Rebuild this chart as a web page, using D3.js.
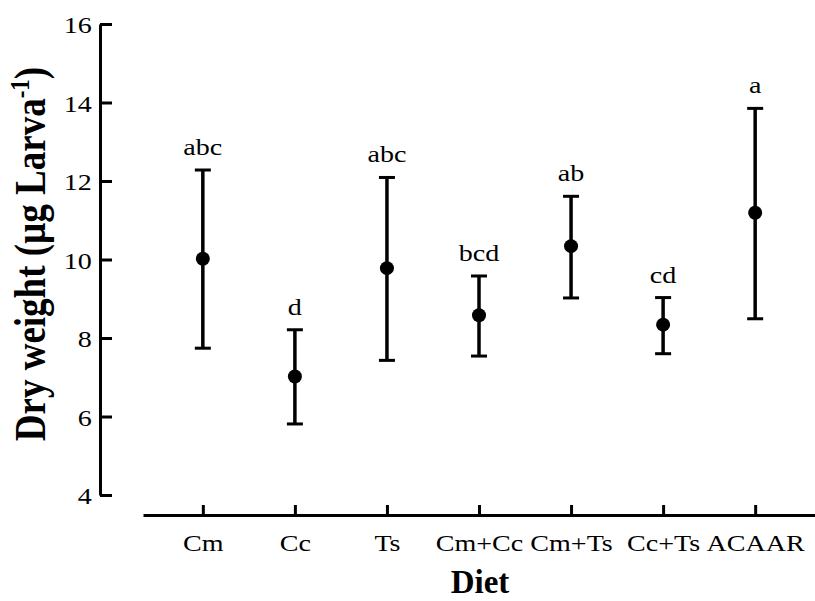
<!DOCTYPE html>
<html>
<head>
<meta charset="utf-8">
<script src="https://cdn.jsdelivr.net/npm/d3@7"></script>
<style>
  body { margin: 0; background: #fff; }
  text { font-family: "Liberation Serif", "Times New Roman", serif; fill: #000; }
</style>
</head>
<body>
<div id="chart"></div>
<script>
const diets = ["Cm", "Cc", "Ts", "Cm+Cc", "Cm+Ts", "Cc+Ts", "ACAAR"];
const means = [10.02, 7.02, 9.78, 8.58, 10.34, 8.34, 11.19];
const upper = [12.28, 8.21, 12.09, 9.58, 11.61, 9.03, 13.85];
const lower = [7.74, 5.81, 7.43, 7.54, 9.02, 7.60, 8.49];
const letters = ["abc", "d", "abc", "bcd", "ab", "cd", "a"];
const yTicks = [4, 6, 8, 10, 12, 14, 16];

const width = 815, height = 601;
const stretch = 1.17; // regular text in the figure is a bit wide

const svg = d3.select("#chart").append("svg")
  .attr("width", width)
  .attr("height", height);

const x = d3.scalePoint()
  .domain(diets)
  .range([143, 815])
  .padding(0.65);

const y = d3.scaleLinear()
  .domain([4, 16])
  .range([495, 24]);

const rows = diets.map((d, i) => ({
  diet: d, mean: means[i], hi: upper[i], lo: lower[i], letter: letters[i]
}));

// y axis, ticks pointing inward
const yAxis = svg.append("g")
  .attr("transform", "translate(100,0)")
  .call(d3.axisLeft(y).tickValues(yTicks).tickSizeInner(-12).tickSizeOuter(0).tickPadding(7));
yAxis.select(".domain").attr("stroke-width", 3);
yAxis.selectAll(".tick line").attr("stroke-width", 3);
yAxis.selectAll(".tick text")
  .attr("font-size", 24)
  .attr("transform", `scale(${stretch},1)`)
  .attr("dy", "0.36em");

// x axis
const xAxis = svg.append("g")
  .attr("transform", "translate(0,515)")
  .call(d3.axisBottom(x).tickSizeInner(-10).tickSizeOuter(0).tickPadding(19));
xAxis.select(".domain").attr("stroke-width", 3);
xAxis.selectAll(".tick line").attr("stroke-width", 3);
xAxis.selectAll(".tick text")
  .attr("font-size", 24)
  .attr("transform", `scale(${stretch},1)`);

// error bars
const bars = svg.append("g").selectAll("g")
  .data(rows)
  .join("g");

bars.append("line")
  .attr("x1", d => x(d.diet)).attr("x2", d => x(d.diet))
  .attr("y1", d => y(d.hi)).attr("y2", d => y(d.lo))
  .attr("stroke", "#000").attr("stroke-width", 3.5);

bars.selectAll(".cap")
  .data(d => [d.hi, d.lo].map(v => ({ diet: d.diet, v })))
  .join("line")
  .attr("class", "cap")
  .attr("x1", d => x(d.diet) - 8).attr("x2", d => x(d.diet) + 8)
  .attr("y1", d => y(d.v)).attr("y2", d => y(d.v))
  .attr("stroke", "#000").attr("stroke-width", 3);

bars.append("circle")
  .attr("cx", d => x(d.diet))
  .attr("cy", d => y(d.mean))
  .attr("r", 7)
  .attr("fill", "#000");

bars.append("text")
  .attr("transform", d => `translate(${x(d.diet)},${y(d.hi) - 15}) scale(${stretch},1)`)
  .attr("text-anchor", "middle")
  .attr("font-size", 24)
  .text(d => d.letter);

// axis titles
const yTitle = svg.append("text")
  .attr("transform", `translate(45,254) rotate(-90) scale(1,${stretch})`)
  .attr("text-anchor", "middle")
  .attr("font-size", 37)
  .attr("font-weight", "bold");
yTitle.append("tspan").text("Dry weight (µg Larva");
yTitle.append("tspan").attr("font-size", 23).attr("dy", -14).text("-1");
yTitle.append("tspan").attr("dy", 14).text(")");

svg.append("text")
  .attr("x", 480)
  .attr("y", 593)
  .attr("text-anchor", "middle")
  .attr("font-size", 33)
  .attr("font-weight", "bold")
  .text("Diet");
</script>
</body>
</html>
